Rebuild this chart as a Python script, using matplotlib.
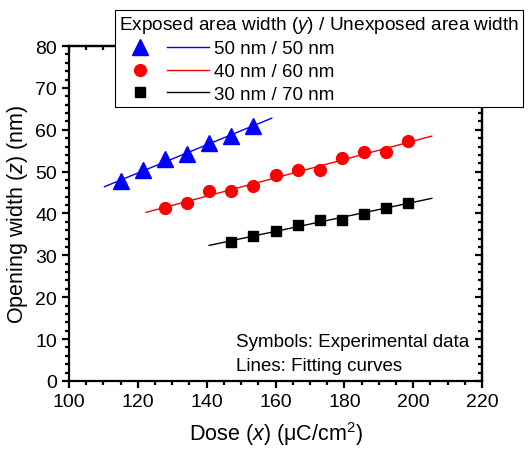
import numpy as np
import matplotlib
matplotlib.use("Agg")
import matplotlib.pyplot as plt
from matplotlib.lines import Line2D
from matplotlib.legend_handler import HandlerTuple
from matplotlib.ticker import MultipleLocator

plt.rcParams["font.family"] = ["Liberation Sans", "DejaVu Sans"]
plt.rcParams["mathtext.fontset"] = "custom"
plt.rcParams["mathtext.rm"] = "Liberation Sans"
plt.rcParams["mathtext.it"] = "Liberation Sans:italic"

# Experimental data
dose_50 = [115.2, 121.6, 128.0, 134.4, 140.8, 147.2, 153.6]
width_50 = [47.7, 50.3, 52.9, 54.3, 56.9, 58.5, 61.0]

dose_40 = [128.0, 134.4, 140.8, 147.2, 153.6, 160.0, 166.4, 172.8, 179.2, 185.6, 192.0, 198.4]
width_40 = [41.3, 42.5, 45.3, 45.3, 46.5, 49.2, 50.5, 50.5, 53.2, 54.6, 54.6, 57.2]

dose_30 = [147.2, 153.6, 160.0, 166.4, 172.8, 179.2, 185.6, 192.0, 198.4]
width_30 = [33.2, 34.6, 35.9, 37.2, 38.5, 38.5, 39.9, 41.2, 42.6]

# x range of the fitting lines
fit_range_50 = [110.3, 158.9]
fit_range_40 = [122.4, 205.4]
fit_range_30 = [140.7, 205.4]

labels = ["50 nm / 50 nm", "40 nm / 60 nm", "30 nm / 70 nm"]

fig = plt.figure(figsize=(5.28, 4.52), dpi=100)
ax = fig.add_axes([0.1307, 0.1549, 0.7822, 0.7411])

series = [
    (dose_50, width_50, fit_range_50, "#0000FF", "^", 11),
    (dose_40, width_40, fit_range_40, "#FF0000", "o", 8.5),
    (dose_30, width_30, fit_range_30, "black", "s", 7.5),
]

handles = []
for (xd, yd, xr, color, marker, ms), lab in zip(series, labels):
    k, b = np.polyfit(xd, yd, 1)
    xf = np.array(xr)
    ax.plot(xf, k * xf + b, color=color, lw=1.0, zorder=2)
    ax.plot(xd, yd, linestyle="none", marker=marker, ms=ms, color=color, zorder=3)
    h_marker = Line2D([], [], linestyle="none", marker=marker, ms=ms, color=color)
    h_line = Line2D([], [], color=color, lw=1.0)
    handles.append((h_marker, h_line))

ax.set_xlim(100, 220)
ax.set_ylim(0, 80)
ax.xaxis.set_major_locator(MultipleLocator(20))
ax.xaxis.set_minor_locator(MultipleLocator(5))
ax.yaxis.set_major_locator(MultipleLocator(10))
ax.yaxis.set_minor_locator(MultipleLocator(2))

for s in ax.spines.values():
    s.set_linewidth(1.6)

ax.tick_params(which="both", direction="out", top=False, right=False, labelsize=14, width=1.6)
ax.tick_params(which="major", length=5)
ax.tick_params(which="minor", length=3)

# mirrored ticks on top/right pointing inward
secx = ax.secondary_xaxis("top")
secx.xaxis.set_major_locator(MultipleLocator(20))
secx.xaxis.set_minor_locator(MultipleLocator(5))
secx.tick_params(which="both", direction="in", labeltop=False, width=1.6)
secx.tick_params(which="major", length=5)
secx.tick_params(which="minor", length=3)
secx.spines["top"].set_linewidth(1.6)
secy = ax.secondary_yaxis("right")
secy.yaxis.set_major_locator(MultipleLocator(10))
secy.yaxis.set_minor_locator(MultipleLocator(2))
secy.tick_params(which="both", direction="in", labelright=False, width=1.6)
secy.tick_params(which="major", length=5)
secy.tick_params(which="minor", length=3)
secy.spines["right"].set_linewidth(1.6)

ax.set_xlabel(r"Dose ($\mathit{x}$) (μC/cm$^{2}$)", fontsize=15.5, labelpad=7)
ax.set_ylabel(r"Opening width ($\mathit{z}$) (nm)", fontsize=15.5, labelpad=4)

ax.text(148.5, 9.5, "Symbols: Experimental data", fontsize=13.5, va="center", ha="left")
ax.text(148.5, 3.8, "Lines: Fitting curves", fontsize=13.5, va="center", ha="left")

leg = fig.legend(
    handles, labels,
    handler_map={tuple: HandlerTuple(ndivide=None, pad=0.32)},
    title=r"Exposed area width ($\mathit{y}$) / Unexposed area width",
    title_fontsize=13.7, fontsize=13.5,
    loc="upper right", bbox_to_anchor=(0.9905, 0.9757), borderaxespad=0,
    frameon=True, fancybox=False, edgecolor="black", framealpha=1,
    handlelength=4.8, handletextpad=0.27, borderpad=0.2, labelspacing=0.3,
    alignment="left",
)
leg.get_frame().set_linewidth(0.8)
leg.set_zorder(10)

fig.savefig("out.png", dpi=100)
